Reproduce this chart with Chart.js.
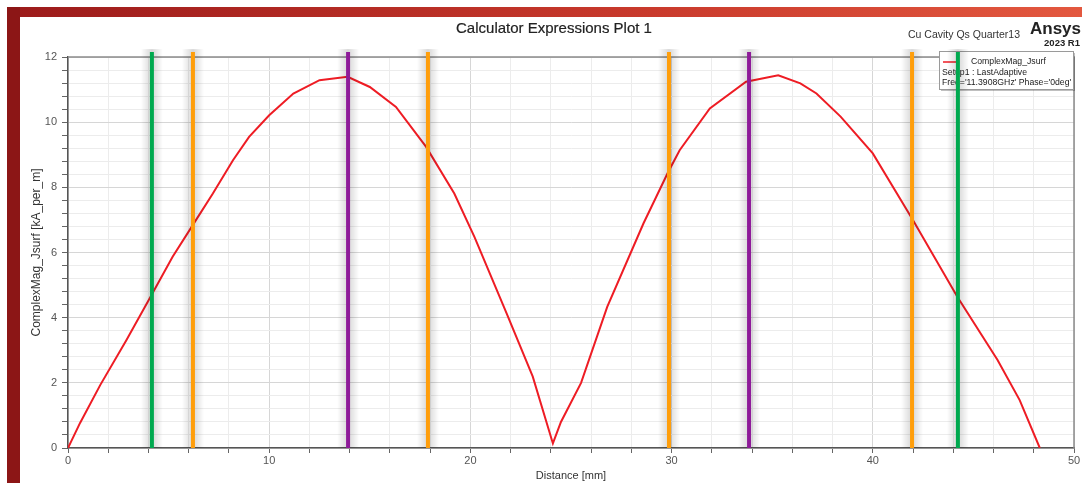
<!DOCTYPE html>
<html>
<head>
<meta charset="utf-8">
<script src="https://cdn.jsdelivr.net/npm/chart.js@4.4.0/dist/chart.umd.min.js"></script>
<style>
  body { margin: 0; background: #fff; font-family: "Liberation Sans", Arial, sans-serif; }
  #wrap { position: relative; width: 1082px; height: 483px; overflow: hidden; }
  #topbar { position: absolute; left: 7px; top: 7px; width: 1075px; height: 10px;
            background: linear-gradient(to right, #9c1b1b, #c93a2c 60%, #e3583f); }
  #sidebar { position: absolute; left: 7px; top: 7px; width: 13px; height: 476px; background: #8c1616; }
  #chart { position: absolute; left: 0; top: 0; }
  .txt { position: absolute; white-space: nowrap; color: #222; }
  #title { left: 554px; top: 19px; transform: translateX(-50%); font-size: 15px; -webkit-text-stroke: 0.2px #222; }
  #project { left: 908px; top: 28px; font-size: 10.5px; color: #333; }
  #brand { right: 1px; top: 19px; font-size: 17px; font-weight: bold; }
  #version { right: 2px; top: 37px; font-size: 9.5px; font-weight: bold; }
</style>
</head>
<body>
<div id="wrap">
  <div id="topbar"></div>
  <div id="sidebar"></div>
  <canvas id="chart" width="1082" height="483"></canvas>
  <div class="txt" id="title">Calculator Expressions Plot 1</div>
  <div class="txt" id="project">Cu Cavity Qs Quarter13</div>
  <div class="txt" id="brand">Ansys</div>
  <div class="txt" id="version">2023 R1</div>
</div>
<script>
document.addEventListener('DOMContentLoaded', function() {
  // curve: distance [mm] vs ComplexMag_Jsurf [kA_per_m]
  const distance = [0, 0.6, 1.6, 2.9, 4.2, 5.2, 6.2, 7.2, 8.2, 9.0, 10.0, 11.2, 12.5, 13.9, 15.0,
    16.3, 17.8, 19.2, 20.2, 21.8, 23.1, 24.1, 24.5, 25.5, 26.8, 28.6, 29.8, 30.4, 31.9, 33.7,
    35.3, 36.4, 37.2, 38.4, 40.0, 42.0, 44.2, 46.2, 47.3, 48.3];
  const jsurf = [0, 0.77, 1.93, 3.31, 4.75, 5.87, 6.84, 7.81, 8.83, 9.55, 10.21, 10.88, 11.29, 11.39, 11.08,
    10.47, 9.24, 7.81, 6.48, 4.13, 2.19, 0.14, 0.8, 2.0, 4.33, 6.89, 8.43, 9.14, 10.42, 11.24,
    11.44, 11.19, 10.88, 10.17, 9.04, 6.99, 4.64, 2.7, 1.47, 0];

  // vertical marker positions [mm]
  const greenMarkers = [4.17, 44.23];
  const orangeMarkers = [6.21, 17.89, 29.87, 41.95];
  const purpleMarkers = [13.92, 33.85];
  const markerTop = 12.15;

  const xTicks = [0, 10, 20, 30, 40, 50];
  const yTicks = [0, 2, 4, 6, 8, 10, 12];

  const legendLines = ['ComplexMag_Jsurf', 'Setup1 : LastAdaptive', "Freq='11.3908GHz' Phase='0deg'"];

  const markerColors = { green: '#00a94f', orange: '#ff9e0b', purple: '#8e1b99' };

  const markerSets = [];
  function addMarkers(list, color) {
    list.forEach(x => {
      markerSets.push({
        data: [{ x: x, y: 0 }, { x: x, y: markerTop }],
        borderColor: color,
        borderWidth: 4,
        pointRadius: 0,
        clip: false,
        glow: true,
        order: 1
      });
    });
  }
  addMarkers(greenMarkers, markerColors.green);
  addMarkers(orangeMarkers, markerColors.orange);
  addMarkers(purpleMarkers, markerColors.purple);

  const isNear = (v, list) => list.some(t => Math.abs(v - t) < 1e-6);

  // soft grey halo behind the marker lines
  const glowPlugin = {
    id: 'glow',
    beforeDatasetDraw(chart, args) {
      const ds = chart.data.datasets[args.index];
      if (!ds.glow) return;
      const ctx = chart.ctx;
      const px = chart.scales.x.getPixelForValue(ds.data[0].x);
      const y0 = chart.scales.y.getPixelForValue(markerTop);
      const y1 = chart.scales.y.getPixelForValue(0);
      const w = 11;
      const g = ctx.createLinearGradient(px - w, 0, px + w, 0);
      g.addColorStop(0, 'rgba(0,0,0,0)');
      g.addColorStop(0.5, 'rgba(0,0,0,0.16)');
      g.addColorStop(1, 'rgba(0,0,0,0)');
      ctx.save();
      ctx.fillStyle = g;
      ctx.fillRect(px - w, y0 - 3, 2 * w, y1 - y0 + 3);
      ctx.restore();
    }
  };

  // top/right frame and the in-plot legend box
  const framePlugin = {
    id: 'frame',
    beforeDatasetsDraw(chart) {
      const ctx = chart.ctx, a = chart.chartArea;
      ctx.save();
      ctx.strokeStyle = '#8c8c8c';
      ctx.lineWidth = 1.5;
      ctx.beginPath();
      ctx.moveTo(a.left, a.top);
      ctx.lineTo(a.right, a.top);
      ctx.lineTo(a.right, a.bottom);
      ctx.stroke();

      const bx = 939, by = 51, bw = 134, bh = 38;
      ctx.fillStyle = 'rgba(0,0,0,0.25)';
      ctx.fillRect(bx + 2, by + 2, bw, bh);
      ctx.fillStyle = '#fff';
      ctx.fillRect(bx, by, bw, bh);
      ctx.strokeStyle = '#9a9a9a';
      ctx.lineWidth = 1;
      ctx.strokeRect(bx + 0.5, by + 0.5, bw, bh);
      ctx.strokeStyle = '#ee1c24';
      ctx.lineWidth = 1.5;
      ctx.beginPath();
      ctx.moveTo(bx + 4, by + 11);
      ctx.lineTo(bx + 18, by + 11);
      ctx.stroke();
      ctx.fillStyle = '#222';
      ctx.font = '8.7px "Liberation Sans", Arial, sans-serif';
      ctx.textBaseline = 'middle';
      ctx.fillText(legendLines[0], bx + 32, by + 11);
      ctx.fillText(legendLines[1], bx + 3, by + 21.5);
      ctx.fillText(legendLines[2], bx + 3, by + 32);
      ctx.restore();
    }
  };

  const ctx = document.getElementById('chart').getContext('2d');
  const chart = new Chart(ctx, {
    type: 'line',
    data: {
      datasets: [
        ...markerSets,
        {
          label: legendLines[0],
          data: distance.map((d, i) => ({ x: d, y: jsurf[i] })),
          borderColor: '#ee1c24',
          borderWidth: 2,
          pointRadius: 0,
          tension: 0,
          order: 2
        }
      ]
    },
    options: {
      responsive: false,
      animation: false,
      layout: { padding: { left: 20, top: 57, right: 8, bottom: 0 } },
      plugins: {
        legend: { display: false },
        tooltip: { enabled: false },
        title: { display: false }
      },
      scales: {
        x: {
          type: 'linear',
          min: 0,
          max: 50,
          afterFit(s) { s.height = 35; },
          afterBuildTicks(s) {
            const t = [];
            for (let v = 0; v <= 50; v += 2) t.push({ value: v });
            s.ticks = t;
          },
          ticks: {
            autoSkip: false,
            maxRotation: 0,
            padding: 1,
            color: '#555',
            font: { family: '"Liberation Sans", Arial, sans-serif', size: 11 },
            callback: v => (isNear(v, xTicks) ? String(v) : '')
          },
          grid: {
            color: c => (isNear(c.tick.value, xTicks) ? '#d6d6d6' : '#ececec'),
            tickColor: '#666',
            tickLength: 5
          },
          border: { color: '#555', width: 1.5 },
          title: {
            display: true,
            text: 'Distance [mm]',
            color: '#333',
            padding: { top: 3, bottom: 0 },
            font: { family: '"Liberation Sans", Arial, sans-serif', size: 11 }
          }
        },
        y: {
          min: 0,
          max: 12,
          afterFit(s) { s.width = 48; },
          afterBuildTicks(s) {
            const t = [];
            for (let i = 0; i <= 30; i++) t.push({ value: i * 0.4 });
            s.ticks = t;
          },
          ticks: {
            autoSkip: false,
            padding: 5,
            color: '#555',
            font: { family: '"Liberation Sans", Arial, sans-serif', size: 11 },
            callback: v => (isNear(v, yTicks) ? String(Math.round(v)) : '')
          },
          grid: {
            color: c => (isNear(c.tick.value, yTicks) ? '#d6d6d6' : '#ececec'),
            tickColor: '#666',
            tickLength: 6
          },
          border: { color: '#555', width: 1.5 },
          title: {
            display: true,
            text: 'ComplexMag_Jsurf [kA_per_m]',
            color: '#333',
            padding: { top: 9, bottom: 0 },
            font: { family: '"Liberation Sans", Arial, sans-serif', size: 12 }
          }
        }
      }
    },
    plugins: [glowPlugin, framePlugin]
  });
});
</script>
</body>
</html>
